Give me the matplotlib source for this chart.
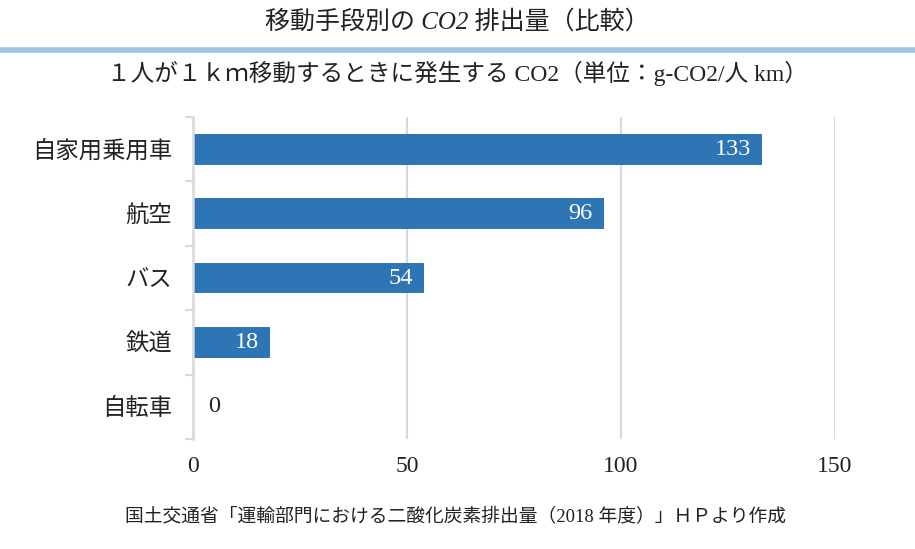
import matplotlib
matplotlib.use("Agg")
import matplotlib.pyplot as plt
from matplotlib.ticker import FixedLocator

plt.rcParams['font.family'] = ['Liberation Serif', 'Noto Sans CJK JP', 'DejaVu Sans']

categories = ["自家用乗用車", "航空", "バス", "鉄道", "自転車"]
values = [133, 96, 54, 18, 0]
xticks = [0, 50, 100, 150]

title = "移動手段別の CO2 排出量（比較）"
subtitle = "１人が１ｋｍ移動するときに発生する CO2（単位：g-CO2/人 km）"
source = "国土交通省「運輸部門における二酸化炭素排出量（2018 年度）」ＨＰより作成"

bar_color = "#2E75B6"
grid_color = "#D9D9D9"

fig = plt.figure(figsize=(9.15, 5.49), dpi=100)
ax = fig.add_axes([193/915, 1-439/549, (835-193)/915, (439-117)/549])

ypos = list(range(len(categories)))
ax.barh(ypos, values, height=0.48, color=bar_color, zorder=3)
ax.set_ylim(len(categories)-0.5, -0.5)
ax.set_xlim(xticks[0], xticks[-1])
ax.set_xticks(xticks)
ax.set_xticklabels([str(t) for t in xticks], fontsize=17, color="#222222")
ax.set_yticks(ypos)
ax.set_yticklabels(categories, fontsize=16.8, color="#222222")
ax.yaxis.set_minor_locator(FixedLocator([i-0.5 for i in range(len(categories)+1)]))
ax.tick_params(axis='y', which='major', length=0, pad=15)
ax.tick_params(axis='y', which='minor', length=6, width=1.5, color=grid_color, direction='out')
ax.tick_params(axis='x', length=0, pad=12)

ax.grid(axis='x', color=grid_color, linewidth=1.5, zorder=0)
for s in ['top', 'right', 'bottom']:
    ax.spines[s].set_visible(False)
ax.spines['left'].set_color(grid_color)
ax.spines['left'].set_linewidth(1.8)
ax.spines['left'].set_zorder(4)

for i, v in enumerate(values):
    if v > 0:
        ax.annotate(str(v), xy=(v, i), xytext=(-8, 0), textcoords='offset points',
                    ha='right', va='center', fontsize=17.5, color='white', zorder=5)
    else:
        ax.annotate(str(v), xy=(v, i), xytext=(11, 0), textcoords='offset points',
                    ha='left', va='center', fontsize=17.5, color='#222222', zorder=5)

fig.text(0.5, 1-22/549, title, ha='center', va='center', fontsize=18, style='italic', color='#222222')
fig.add_artist(plt.Line2D([0, 1], [1-50/549, 1-50/549], transform=fig.transFigure,
                          color='#9DC3E6', linewidth=4))
fig.text(0.5, 1-73/549, subtitle, ha='center', va='center', fontsize=17, color='#222222')
fig.text(125/915, 1-517/549, source, ha='left', va='center', fontsize=13.5, color='#222222')

fig.savefig("out.png", dpi=100)
